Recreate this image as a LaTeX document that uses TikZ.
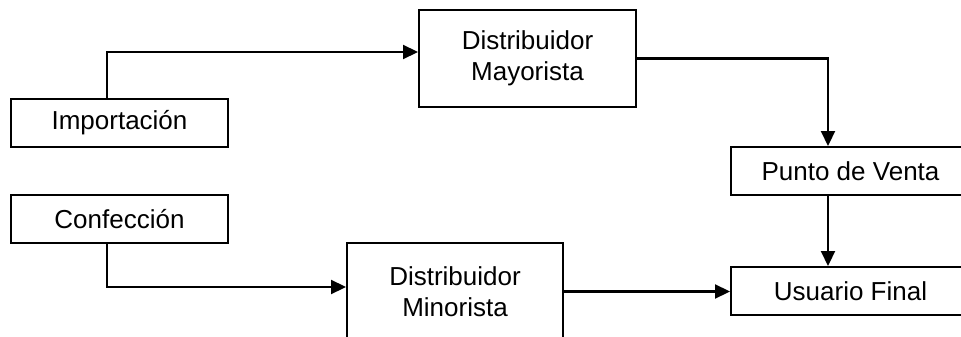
\documentclass[tikz,border=0pt]{standalone}
\usepackage{fontspec}
\setmainfont{Liberation Sans}
\usetikzlibrary{arrows.meta}
\tikzset{
  caja/.style={draw, line width=2pt, inner sep=0pt, align=center,
    font=\fontsize{26}{31}\selectfont},
  flecha/.style={line width=2.2pt, -{Triangle[length=15pt,width=14pt]}},
}
\begin{document}
\begin{tikzpicture}[x=1pt, y=-1pt, line join=miter]
  \useasboundingbox (0,0) rectangle (961,337);
  \clip (0,0) rectangle (961,337);
  % cajas
  \node[caja, minimum width=217pt, minimum height=48pt] (imp) at (119.5,123) {Importación};
  \node[caja, minimum width=217pt, minimum height=48pt] (con) at (119.5,219) {Confección};
  \node[caja, minimum width=217pt, minimum height=97pt] (may) at (527.5,58.5) {Distribuidor\\Mayorista};
  \node[caja, minimum width=216pt, minimum height=97pt] (min) at (455,291.5) {Distribuidor\\Minorista};
  \node[caja, minimum width=239pt, minimum height=48pt] (pv) at (850.5,171) {Punto de Venta};
  \node[caja, minimum width=239pt, minimum height=48pt] (usr) at (850.5,291) {Usuario Final};
  % flechas
  \draw[flecha] ([xshift=-12.5pt]imp.north) |- ([yshift=6.5pt]may.west);
  \draw[flecha] (may.east) -| ([xshift=-22.5pt]pv.north);
  \draw[flecha] ([xshift=-22.5pt]pv.south) -- ([xshift=-22.5pt]usr.north);
  \draw[flecha] ([xshift=-12.5pt]con.south) |- ([yshift=4.5pt]min.west);
  \draw[flecha] (min.east) -- (min.east -| usr.west);
\end{tikzpicture}
\end{document}
